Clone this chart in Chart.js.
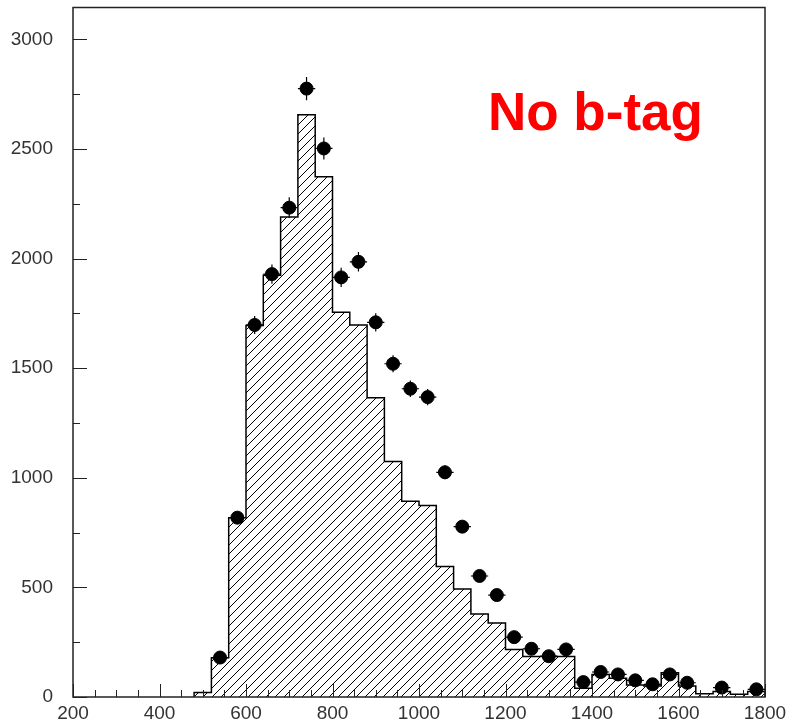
<!DOCTYPE html>
<html>
<head>
<meta charset="utf-8">
<script src="https://cdn.jsdelivr.net/npm/chart.js@4/dist/chart.umd.min.js"></script>
<style>
  body { margin: 0; background: white; }
  #wrap { position: relative; width: 788px; height: 722px; }
</style>
</head>
<body>
<div id="wrap"><canvas id="chart"></canvas></div>
<script>
// histogram (simulation), 40 GeV bins, lower edges
const binEdges = [480, 520, 560, 600, 640, 680, 720, 760, 800, 840, 880, 920, 960, 1000, 1040,
  1080, 1120, 1160, 1200, 1240, 1280, 1320, 1360, 1400, 1440, 1480, 1520, 1560, 1600, 1640,
  1680, 1720, 1760];
const histValues = [20, 179, 818, 1694, 1924, 2189, 2656, 2373, 1755, 1697, 1365, 1074, 893, 873, 595,
  493, 379, 338, 217, 185, 185, 185, 40, 103, 85, 55, 50, 111, 50, 15,
  25, 12, 25];
const histEnd = 1800;

// data points (bin centres)
const pointCenters = [540, 580, 620, 660, 700, 740, 780, 820, 860, 900, 940, 980, 1020, 1060, 1100,
  1140, 1180, 1220, 1260, 1300, 1340, 1380, 1420, 1460, 1500, 1540, 1580, 1620, 1700, 1780];
const pointValues = [180, 818, 1697, 1929, 2232, 2775, 2502, 1914, 1985, 1709, 1520, 1406, 1368, 1025, 777,
  552, 465, 273, 220, 186, 217, 68, 114, 103, 76, 58, 103, 65, 43, 35];

const xTicks = [200, 400, 600, 800, 1000, 1200, 1400, 1600, 1800];
const yTicks = [0, 500, 1000, 1500, 2000, 2500, 3000];

// step outline points
const histPoints = [{ x: binEdges[0], y: 0 }];
binEdges.forEach((e, i) => histPoints.push({ x: e, y: histValues[i] }));
histPoints.push({ x: histEnd, y: 0 });

const dataPoints = pointCenters.map((c, i) => ({ x: c, y: pointValues[i] }));

// hatch pattern
function makeHatch() {
  const s = 9;
  const c = document.createElement("canvas");
  c.width = s; c.height = s;
  const g = c.getContext("2d");
  g.strokeStyle = "#000";
  g.lineWidth = 1;
  g.beginPath();
  g.moveTo(0, s); g.lineTo(s, 0);
  g.moveTo(-1, 1); g.lineTo(1, -1);
  g.moveTo(s - 1, s + 1); g.lineTo(s + 1, s - 1);
  g.stroke();
  return g.createPattern(c, "repeat");
}

const framePlugin = {
  id: "frame",
  afterDatasetsDraw(chart) {
    const { ctx, chartArea: a, scales } = chart;
    ctx.save();
    ctx.strokeStyle = "#222";
    ctx.lineWidth = 1;
    ctx.beginPath();
    // inward ticks on the y axis
    for (let v = 0; v <= 3000; v += 250) {
      const y = Math.round(scales.y.getPixelForValue(v)) + 0.5;
      const len = v % 500 === 0 ? 14 : 7;
      ctx.moveTo(a.left, y); ctx.lineTo(a.left + len, y);
    }
    // inward ticks on the x axis
    for (let v = 200; v <= 1800; v += 50) {
      const x = Math.round(scales.x.getPixelForValue(v)) + 0.5;
      const len = v % 200 === 0 ? 13 : 7;
      ctx.moveTo(x, a.bottom); ctx.lineTo(x, a.bottom - len);
    }
    ctx.stroke();
    ctx.lineWidth = 1.5;
    ctx.strokeRect(a.left, a.top, a.right - a.left, a.bottom - a.top);

    // error bars on the data points
    ctx.strokeStyle = "#000";
    ctx.lineWidth = 1.2;
    ctx.beginPath();
    dataPoints.forEach(p => {
      const x = scales.x.getPixelForValue(p.x);
      const y = scales.y.getPixelForValue(p.y);
      const err = Math.sqrt(p.y);
      ctx.moveTo(x, scales.y.getPixelForValue(p.y - err));
      ctx.lineTo(x, scales.y.getPixelForValue(p.y + err));
      ctx.moveTo(scales.x.getPixelForValue(p.x - 20), y);
      ctx.lineTo(scales.x.getPixelForValue(p.x + 20), y);
    });
    ctx.stroke();

    ctx.fillStyle = "#ff0000";
    ctx.font = "bold 53px 'Liberation Sans', Arial, sans-serif";
    ctx.textBaseline = "alphabetic";
    ctx.fillText("No b-tag", 488, 130);
    ctx.restore();
  }
};

const tickFont = { family: "'Liberation Sans', Arial, sans-serif", size: 19 };

new Chart(document.getElementById("chart"), {
  data: {
    datasets: [
      {
        type: "line",
        data: histPoints,
        stepped: "before",
        fill: "origin",
        backgroundColor: makeHatch(),
        borderColor: "#000",
        borderWidth: 1.5,
        pointRadius: 0,
        order: 2
      },
      {
        type: "scatter",
        data: dataPoints,
        backgroundColor: "#000",
        borderColor: "#000",
        pointRadius: 6.5,
        order: 1
      }
    ]
  },
  options: {
    responsive: true,
    maintainAspectRatio: false,
    animation: false,
    layout: { padding: { left: 0, top: 6, right: 23, bottom: 0 } },
    plugins: { legend: { display: false }, tooltip: { enabled: false } },
    scales: {
      x: {
        type: "linear",
        min: 200,
        max: 1800,
        grid: { display: false, drawTicks: false },
        border: { display: false },
        afterBuildTicks: s => { s.ticks = xTicks.map(v => ({ value: v })); },
        afterFit: s => { s.height = 25; s.paddingLeft = 0; s.paddingRight = 0; },
        ticks: { font: tickFont, color: "#333", padding: 5, maxRotation: 0, callback: v => String(v) }
      },
      y: {
        type: "linear",
        min: 0,
        max: 3145,
        grid: { display: false, drawTicks: false },
        border: { display: false },
        afterBuildTicks: s => { s.ticks = yTicks.map(v => ({ value: v })); },
        afterFit: s => { s.width = 73; s.paddingTop = 0; s.paddingBottom = 0; },
        ticks: { font: tickFont, color: "#333", padding: 20, callback: v => String(v) }
      }
    }
  },
  plugins: [framePlugin]
});
</script>
</body>
</html>
